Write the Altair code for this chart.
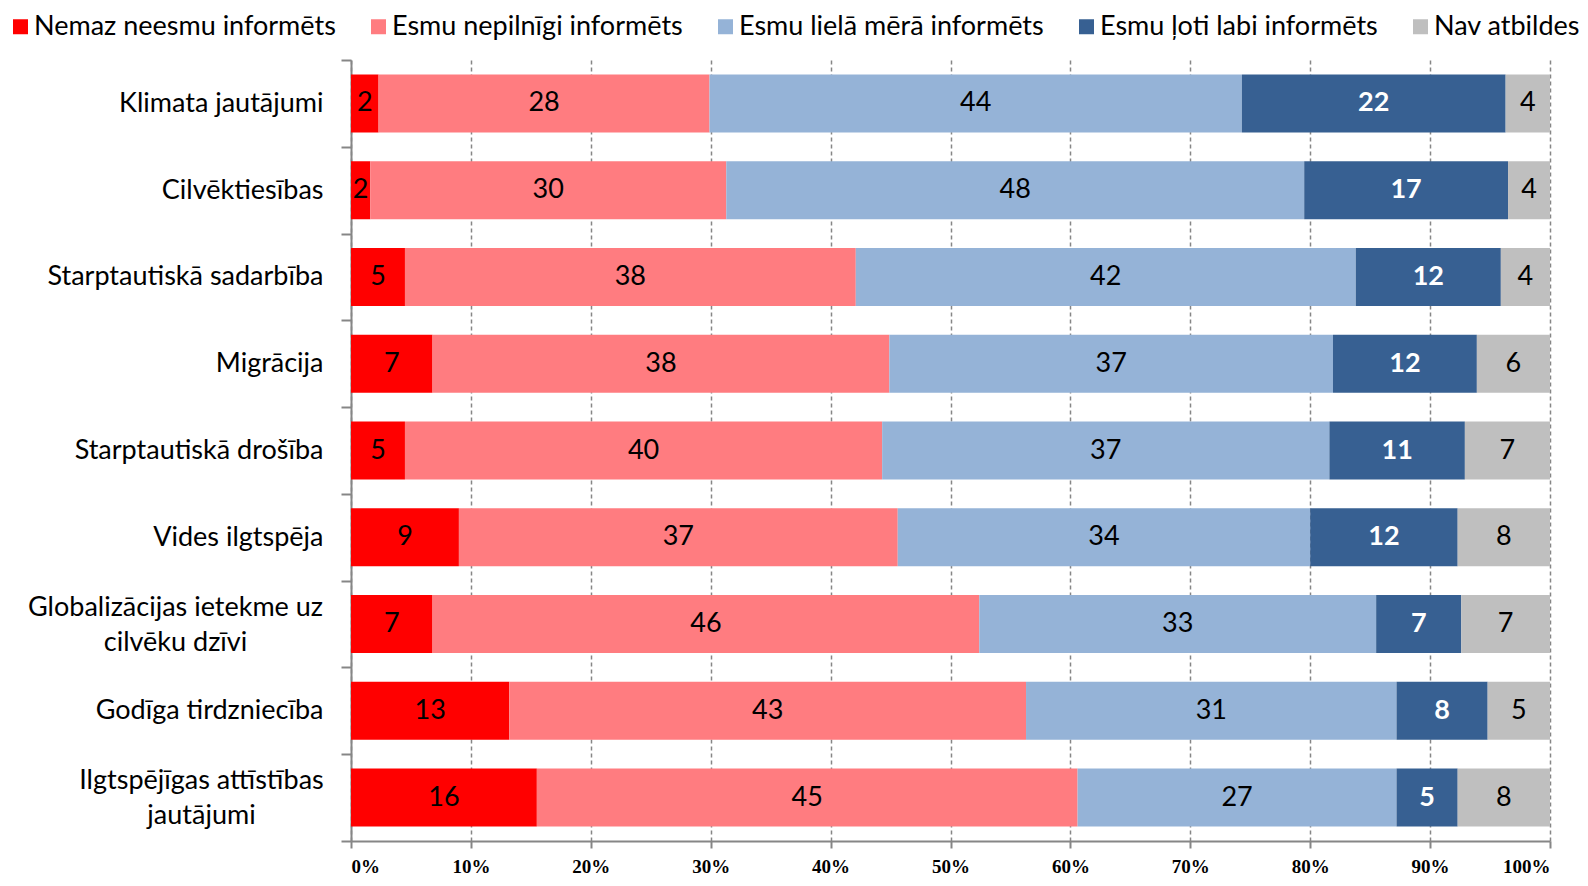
import altair as alt
import pandas as pd

FONT = "Lato"

categories = [
    "Klimata jautājumi",
    "Cilvēktiesības",
    "Starptautiskā sadarbība",
    "Migrācija",
    "Starptautiskā drošība",
    "Vides ilgtspēja",
    "Globalizācijas ietekme uz\ncilvēku dzīvi",
    "Godīga tirdzniecība",
    "Ilgtspējīgas attīstības\njautājumi",
]
series = [
    "Nemaz neesmu informēts",
    "Esmu nepilnīgi informēts",
    "Esmu lielā mērā informēts",
    "Esmu ļoti labi informēts",
    "Nav atbildes",
]
colors = ["#FF0000", "#FF7C80", "#95B3D7", "#376092", "#BFBFBF"]

# shares (%)
nemaz = [2.3, 1.6, 4.5, 6.8, 4.5, 9.0, 6.8, 13.2, 15.5]
nepilnigi = [27.6, 29.7, 37.6, 38.1, 39.8, 36.6, 45.6, 43.1, 45.1]
liela = [44.4, 48.2, 41.7, 37.0, 37.3, 34.4, 33.1, 30.9, 26.6]
loti = [22.0, 17.0, 12.1, 12.0, 11.3, 12.3, 7.1, 7.6, 5.1]
nav = [3.7, 3.5, 4.1, 6.1, 7.1, 7.7, 7.4, 5.2, 7.7]

# data labels as printed on the chart
lab_nemaz = [2, 2, 5, 7, 5, 9, 7, 13, 16]
lab_nepilnigi = [28, 30, 38, 38, 40, 37, 46, 43, 45]
lab_liela = [44, 48, 42, 37, 37, 34, 33, 31, 27]
lab_loti = [22, 17, 12, 12, 11, 12, 7, 8, 5]
lab_nav = [4, 4, 4, 6, 7, 8, 7, 5, 8]

x_ticks = list(range(0, 101, 10))

values = [nemaz, nepilnigi, liela, loti, nav]
labels = [lab_nemaz, lab_nepilnigi, lab_liela, lab_loti, lab_nav]

rows = []
for si, s in enumerate(series):
    for ci, c in enumerate(categories):
        rows.append({"category": c, "series": s, "order": si,
                     "value": values[si][ci], "label": str(labels[si][ci])})
df = pd.DataFrame(rows)

GRAY = "#868686"

base = alt.Chart(df).transform_stack(
    stack="value", groupby=["category"], as_=["x0", "x1"],
    sort=[alt.SortField("order", order="ascending")]
).transform_calculate(mid="(datum.x0 + datum.x1) / 2")

xscale = alt.Scale(domain=[0, 100], nice=False, zero=True)
yscale = alt.Scale(domain=categories, paddingInner=0, paddingOuter=0)

IS_MULTI = "isString(datum.label) && indexof(datum.label, '\\n') >= 0"

x_axis = alt.Axis(
    values=x_ticks, labelExpr="datum.value + '%'", title=None,
    domainColor=GRAY, domainWidth=2, tickColor=GRAY, tickWidth=2, tickSize=7,
    labelFont="Liberation Serif", labelFontWeight="bold", labelFontSize=19,
    labelColor="black", labelPadding=9,
    grid=True, gridColor=GRAY, gridDash=[4, 3], gridWidth=1.5,
)
y_axis = alt.Axis(
    title=None, domainColor=GRAY, domainWidth=2, tickColor=GRAY, tickWidth=2,
    tickSize=10, tickBand="extent", labelFont=FONT, labelFontSize=27,
    labelColor="black", labelLimit=600, labelLineHeight=35,
    labelExpr="isString(datum.label) ? split(datum.label, '\\n') : ''",
    labelAlign={"condition": {"test": IS_MULTI, "value": "center"},
                "value": "right"},
    labelOffset={"condition": {"test": IS_MULTI, "value": -17},
                 "value": 0},
    labelPadding={"condition": [
        {"test": "isString(datum.label) && indexof(datum.label, 'Globaliz') >= 0", "value": 166},
        {"test": "isString(datum.label) && indexof(datum.label, 'Ilgtsp') >= 0", "value": 140}],
        "value": 18},
)

bars = base.mark_bar(size=58).encode(
    x=alt.X("x0:Q", scale=xscale, axis=x_axis),
    x2="x1:Q",
    y=alt.Y("category:N", scale=yscale, axis=y_axis),
    color=alt.Color(
        "series:N", scale=alt.Scale(domain=series, range=colors),
        legend=alt.Legend(
            title=None, orient="none", legendX=-344, legendY=-47,
            direction="horizontal", columns=5, symbolType="square",
            symbolSize=225, symbolStrokeWidth=0, symbolOpacity=1,
            labelFont=FONT, labelFontSize=27, labelColor="black",
            labelLimit=600, labelOffset=0, columnPadding=29, padding=0,
        ),
    ),
)

txt_dark = base.transform_filter(alt.datum.series != series[3]).mark_text(
    font=FONT, fontSize=27, color="black", align="center", baseline="middle"
).encode(
    x=alt.X("mid:Q", scale=xscale),
    y=alt.Y("category:N", scale=yscale),
    text="label:N",
)
txt_light = base.transform_filter(alt.datum.series == series[3]).mark_text(
    font=FONT, fontSize=27, color="white", fontWeight="bold",
    align="center", baseline="middle"
).encode(
    x=alt.X("mid:Q", scale=xscale),
    y=alt.Y("category:N", scale=yscale),
    text="label:N",
)

chart = alt.layer(bars, txt_dark, txt_light).properties(
    width=1199, height=781,
    autosize=alt.AutoSizeParams(type="none"),
    padding={"left": 343, "top": 52, "right": 30, "bottom": 37},
    background="white",
).configure_view(strokeWidth=0)

chart.save("out.html", embed_options={"renderer": "svg", "actions": False})
